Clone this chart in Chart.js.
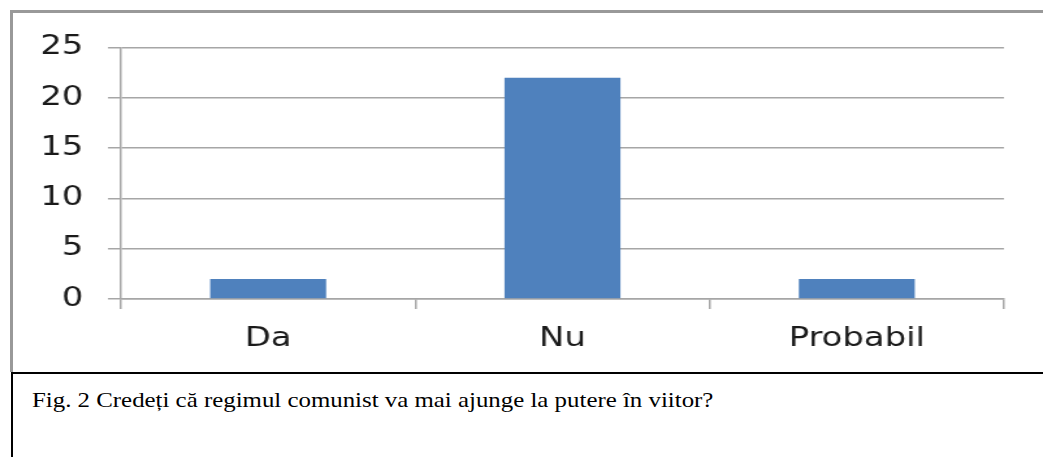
<!DOCTYPE html>
<html>
<head>
<meta charset="utf-8">
<title>Fig. 2</title>
<script src="https://cdn.jsdelivr.net/npm/chart.js@4/dist/chart.umd.min.js"></script>
<style>
    html, body { margin: 0; padding: 0; background: #fff; }
    body { width: 1043px; height: 457px; position: relative; overflow: hidden; }
    #frame {
        position: absolute; left: 10px; top: 10px; width: 1033px; height: 362px;
        border-left: 3px solid #999; border-top: 3px solid #999; box-sizing: border-box;
    }
    /* the source picture is stretched sideways, so the chart is too */
    #stretch {
        position: absolute; left: 13px; top: 13px; width: 792px; height: 359px;
        transform: scaleX(1.3005); transform-origin: 0 0;
    }
    #caption {
        position: absolute; left: 11px; top: 372px; width: 1032px; height: 85px;
        border-top: 2px solid #000; border-left: 2px solid #000; box-sizing: border-box;
    }
    #caption span {
        position: absolute; left: 19px; top: 13px; white-space: nowrap;
        font-family: 'Liberation Serif', 'Times New Roman', serif; font-size: 22px; color: #000;
        transform: scaleX(1.13); transform-origin: 0 0;
    }
</style>
</head>
<body>
<div id="frame"></div>
<div id="stretch"><canvas id="chart"></canvas></div>
<div id="caption"><span>Fig. 2 Credeți că regimul comunist va mai ajunge la putere în viitor?</span></div>
<script>
(function(global) {
    'use strict';

    // ============================================================================
    // DATA
    // ============================================================================

    var categories = ['Da', 'Nu', 'Probabil'];
    var answers = [2, 22, 2];
    var yTicks = [0, 5, 10, 15, 20, 25];

    // ============================================================================
    // CHART
    // ============================================================================

    var GRID = '#a6a6a6';
    var TEXT = '#1a1a1a';
    var FONT = { family: 'DejaVu Sans, Verdana, sans-serif', size: 26 };

    /**
     * Build the bar chart
     * @param {string} canvasId - Canvas element ID
     * @returns {Chart} Chart instance
     */
    function initBarChart(canvasId) {
        var ctx = document.getElementById(canvasId);
        if (!ctx) return null;

        return new Chart(ctx, {
            type: 'bar',
            data: {
                labels: categories,
                datasets: [{
                    label: 'Răspunsuri',
                    data: answers,
                    backgroundColor: '#4f81bd',
                    borderWidth: 0,
                    barPercentage: 0.394,
                    categoryPercentage: 1
                }]
            },
            options: {
                responsive: true,
                maintainAspectRatio: false,
                animation: false,
                layout: { padding: { top: 28, right: 30, bottom: 0, left: 0 } },
                plugins: {
                    legend: { display: false },
                    tooltip: { enabled: false }
                },
                scales: {
                    x: {
                        grid: {
                            offset: true,
                            drawOnChartArea: false,
                            drawTicks: true,
                            tickLength: 10,
                            color: GRID,
                            lineWidth: 1.5
                        },
                        border: { color: GRID, width: 1.5 },
                        ticks: { color: TEXT, font: FONT, padding: 15, maxRotation: 0 },
                        afterFit: function(scale) { scale.height = 73; }
                    },
                    y: {
                        min: 0,
                        max: 25,
                        afterBuildTicks: function(scale) {
                            scale.ticks = yTicks.map(function(v) { return { value: v }; });
                        },
                        grid: {
                            color: GRID,
                            lineWidth: 1.5,
                            tickLength: 10
                        },
                        border: { color: GRID, width: 1.5 },
                        ticks: { color: TEXT, font: FONT, padding: 19 },
                        afterFit: function(scale) { scale.width = 83; }
                    }
                }
            }
        });
    }

    global.barChart = initBarChart('chart');

})(typeof window !== 'undefined' ? window : this);
</script>
</body>
</html>
